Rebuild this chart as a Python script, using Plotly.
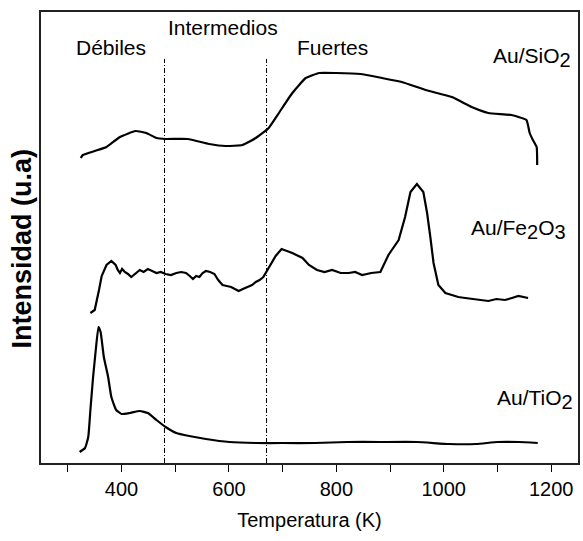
import plotly.graph_objects as go

# ---- data (temperature K, intensity in arbitrary units) ----
sio2_T = [324, 328, 350, 372, 397, 426, 446, 465, 482, 523, 563, 594, 625, 650, 674, 693, 718, 743,
          768, 799, 845, 885, 922, 966, 1015, 1052, 1083, 1126, 1154, 1160, 1166, 1173, 1174]
sio2_I = [305, 308, 312, 316, 326, 332, 330, 325, 324, 324, 319, 317, 318, 325, 335, 350, 370, 385,
          390, 390, 389, 385, 381, 373, 366, 356, 350, 348, 343, 330, 323, 316, 298]

fe_T = [342, 350, 358, 363, 372, 381, 389, 393, 397, 401, 406, 412, 418, 426, 434, 441, 449, 457,
        465, 473, 482, 492, 502, 511, 520, 527, 533, 539, 545, 551, 557, 565, 573, 580, 588, 596,
        604, 611, 618, 626, 635, 643, 650, 657, 664, 675, 687, 698, 708, 718, 737, 749, 764, 778,
        792, 808, 823, 835, 848, 865, 882, 897, 916, 928, 938, 950, 962, 969, 975, 981, 990, 1003,
        1015, 1027, 1040, 1052, 1068, 1083, 1098, 1114, 1127, 1139, 1157]
fe_I = [150, 153, 173, 187, 198, 202, 198, 193, 190, 194, 191, 189, 186, 190, 193, 191, 194, 192,
        190, 191, 189, 188, 190, 191, 190, 187, 184, 187, 186, 190, 192, 191, 189, 183, 178, 177,
        176, 174, 172, 174, 176, 178, 181, 183, 186, 196, 207, 214, 212, 210, 205, 198, 193, 191,
        193, 190, 190, 191, 188, 190, 191, 208, 223, 246, 271, 279, 271, 250, 226, 200, 178, 170,
        168, 166, 165, 164, 163, 162, 164, 163, 165, 167, 165]

ti_T = [322, 332, 338, 342, 347, 352, 357, 361, 367, 375, 381, 390, 400, 415, 434, 449, 465, 482,
        502, 526, 557, 601, 650, 700, 760, 820, 880, 950, 1010, 1060, 1100, 1140, 1175]
ti_I = [11, 15, 26, 53, 86, 113, 136, 131, 106, 86, 66, 53, 49, 50, 52, 50, 43, 36,
        30, 27, 24, 21, 20, 20, 20, 21, 21, 21, 19, 19, 21, 21, 20]

region_bounds = [480, 670]
region_labels = ["Débiles", "Intermedios", "Fuertes"]
region_label_x = [380, 588, 792]
region_label_y = [416, 436, 416]

SUB2 = "<sub><span style='font-size:20px'>2</span></sub>"
SUB3 = "<sub><span style='font-size:20px'>3</span></sub>"
series_labels = ["Au/SiO" + SUB2, "Au/Fe" + SUB2 + "O" + SUB3, "Au/TiO" + SUB2]
series_label_x = [1240, 1232, 1244]
series_label_y = [406, 234, 64]

x_ticks = [400, 600, 800, 1000, 1200]

FONT = "Liberation Sans, Arial, sans-serif"

fig = go.Figure()
for T, I, shp in [(sio2_T, sio2_I, "spline"), (fe_T, fe_I, "linear"), (ti_T, ti_I, "spline")]:
    fig.add_trace(go.Scatter(x=T, y=I, mode="lines",
                             line=dict(color="black", width=2.2, shape=shp,
                                       **({"smoothing": 0.4} if shp == "spline" else {})),
                             showlegend=False, hoverinfo="skip"))

for xb in region_bounds:
    fig.add_shape(type="line", xref="x", yref="paper", x0=xb, x1=xb, y0=0, y1=0.896,
                  line=dict(color="black", width=1, dash="5px,2px,1px,2px"))

for txt, xx, yy in zip(region_labels, region_label_x, region_label_y):
    fig.add_annotation(x=xx, y=yy, xref="x", yref="y", text=txt, showarrow=False,
                       font=dict(family=FONT, size=21, color="black"),
                       xanchor="center", yanchor="middle")

for txt, xx, yy in zip(series_labels, series_label_x, series_label_y):
    fig.add_annotation(x=xx, y=yy, xref="x", yref="y", text=txt, showarrow=False,
                       font=dict(family=FONT, size=21, color="black"),
                       xanchor="right", yanchor="middle")

fig.add_annotation(x=-0.036, y=0.475, xref="paper", yref="paper", text="<b>Intensidad (u.a)</b>",
                   showarrow=False, textangle=-90,
                   font=dict(family=FONT, size=27, color="black"),
                   xanchor="center", yanchor="middle")

fig.update_layout(
    width=583, height=541,
    margin=dict(l=41, r=3, t=12, b=78),
    paper_bgcolor="white", plot_bgcolor="white",
    font=dict(family=FONT, color="black"),
)
fig.update_xaxes(range=[250, 1250], tickvals=x_ticks, ticks="outside", ticklen=7, tickwidth=1,
                 tickcolor="black", showgrid=False, zeroline=False,
                 showline=True, linecolor="#222", linewidth=1.5, mirror=True,
                 tickfont=dict(family=FONT, size=20, color="black"),
                 minor=dict(dtick=100, tick0=300, ticks="outside", ticklen=7, tickcolor="black", showgrid=False),
                 title=dict(text="Temperatura (K)", font=dict(family=FONT, size=20, color="black"), standoff=14))
fig.update_yaxes(range=[0, 451], showticklabels=False, ticks="", showgrid=False, zeroline=False,
                 showline=True, linecolor="#222", linewidth=1.5, mirror=True)

# remove the default page margin so the figure fills the window exactly
fig.write_html("out.html", config={"displayModeBar": False},
               post_script="document.body.style.margin='0px';document.body.style.overflow='hidden';")
